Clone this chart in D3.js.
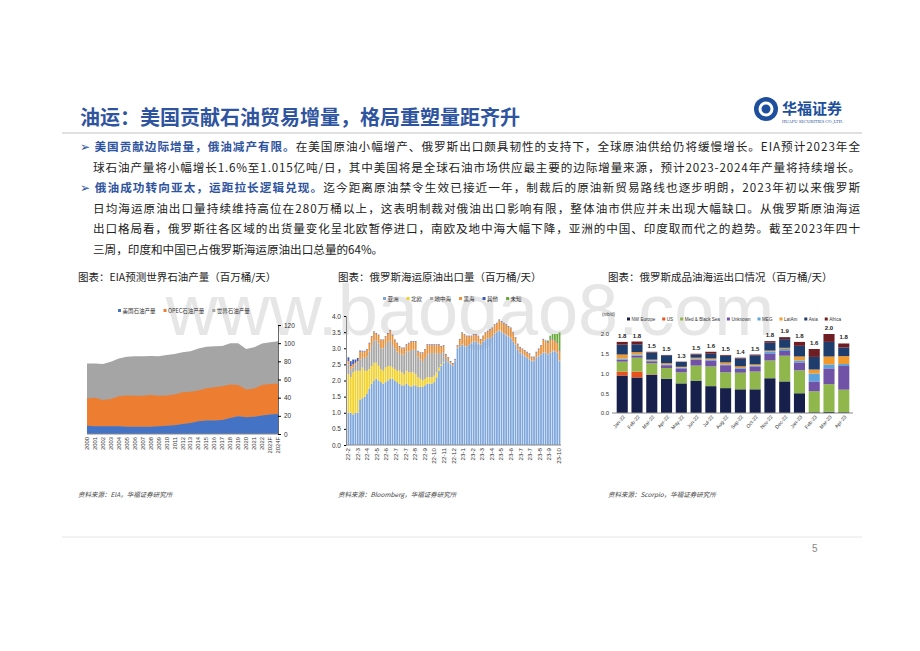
<!DOCTYPE html>
<html><head><meta charset="utf-8">
<script src="https://cdn.jsdelivr.net/npm/d3@7"></script>
<style>body{margin:0;background:#fff;font-family:"Noto Sans CJK SC",sans-serif}</style>
</head><body><svg id="s" width="920" height="651"></svg>
<script>
// ---- Chart 1 data ----
const years1 = ["2000","2001","2002","2003","2004","2005","2006","2007","2008","2009","2010","2011","2012","2013","2014","2015","2016","2017","2018","2019","2020","2021","2022","2023F","2024F"];
const usProd = [9,8.5,8.5,8.5,8.5,8,8,8,8,8.5,9,9.5,11,12,14,15,15,15.5,17.5,19.5,18.5,19,20.5,21.5,22];
const opecProd = [30,31.5,29,30,33,34.5,34,34,35,33.5,33.5,34,35,34.5,34,35.5,36.5,37,37,34.5,30.5,31,33.5,33.5,33.5];
const worldProd = [77.5,77.5,77,79.5,83,85,85.5,85.5,86,85.5,87,88,90,91,94,96,96.5,97,100,100,93.5,95.5,99.5,101,102];
const ticks1 = [0,20,40,60,80,100,120];
// ---- Chart 2 data (weekly) ----
const weekLabels = ["22-2","22-3","22-4","22-5","22-6","22-7","22-7","22-8","22-9","22-10","22-11","22-12","23-1","23-2","23-3","23-4","23-5","23-6","23-7","23-7","23-8","23-9","23-10"];
const asia = [1.0,1.0,0.95,1.0,1.0, 1.4,1.45,1.5,1.6,1.75, 1.9,2.0,2.05,2.0,1.95, 1.9,1.95,2.0,2.05,2.05, 2.0,1.95,1.9,1.85,1.85, 1.9,1.85,1.8,1.85,1.85, 1.8,1.8,1.8,1.85,1.9, 1.9,1.9,1.95,2.1,2.3, 2.45,2.55,2.6,2.55,2.5, 2.45,2.6,3.0,3.05,3.1, 3.05,3.05,3.1,3.15,3.2, 3.2,3.15,3.1,3.2,3.25, 3.3,3.3,3.35,3.45,3.5, 3.55,3.5,3.45,3.4,3.35, 3.3,3.2,3.1,2.95,2.85, 2.8,2.75,2.7,2.65,2.6, 2.6,2.7,2.75,2.8,2.85, 2.85,2.8,2.85,2.9,2.9, 2.85,2.6];
const nEurope = [1.2,1.1,1.3,1.3,1.3, 0.9,0.95,0.8,0.7,0.6, 0.55,0.55,0.5,0.45,0.4, 0.4,0.45,0.45,0.4,0.35, 0.35,0.35,0.4,0.4,0.35, 0.4,0.4,0.45,0.4,0.35, 0.3,0.25,0.2,0.2,0.2, 0.2,0.2,0.2,0.15,0.1, 0.05,0.02,0,0,0, 0,0,0,0,0, 0,0,0,0,0, 0,0,0,0,0, 0,0,0,0,0, 0,0,0,0,0, 0,0,0,0,0, 0,0,0,0,0, 0,0,0,0,0, 0,0,0,0,0, 0,0];
const med = [0.3,0.25,0.15,0.2,0.25, 0.35,0.3,0.4,0.45,0.55, 0.65,0.7,0.7,0.7,0.65, 0.7,0.7,0.75,0.8,0.7, 0.65,0.6,0.55,0.55,0.6, 0.6,0.65,0.7,0.7,0.75, 0.65,0.6,0.6,0.65,0.7, 0.75,0.75,0.7,0.6,0.45, 0.35,0.3,0.1,0.05,0.03, 0.02,0.02,0.02,0.02,0.02, 0.02,0.02,0.02,0.02,0.02, 0.02,0.02,0.02,0.02,0.02, 0.02,0.02,0.02,0.02,0.02, 0.02,0.02,0.02,0.02,0.02, 0.02,0.02,0.02,0.02,0.02, 0.02,0.02,0.02,0.02,0.02, 0.02,0.02,0.02,0.02,0.02, 0.02,0.02,0.02,0.02,0.02, 0.02,0.02];
const blackSea = [0.1,0.1,0.1,0.05,0.05, 0.25,0.2,0.2,0.2,0.25, 0.25,0.25,0.2,0.25,0.25, 0.25,0.25,0.25,0.3,0.3, 0.25,0.25,0.2,0.2,0.2, 0.2,0.25,0.25,0.25,0.25, 0.15,0.2,0.25,0.25,0.3, 0.25,0.25,0.25,0.25,0.25, 0.2,0.2,0.1,0.1,0.05, 0.05,0.03,0.05,0.2,0.35, 0.35,0.3,0.25,0.2,0.2, 0.2,0.2,0.15,0.15,0.2, 0.2,0.25,0.25,0.25,0.25, 0.3,0.3,0.3,0.3,0.3, 0.3,0.25,0.2,0.15,0.15, 0.15,0.15,0.15,0.15,0.1, 0.1,0.15,0.2,0.25,0.4, 0.35,0.35,0.4,0.35,0.3, 0.3,0.3];
const other = [0.12,0.15,0.15,0.1,0.1, 0.03,0.02,0.02,0.02,0.02, 0.02,0.02,0.02,0.02,0.02, 0.02,0.02,0.02,0.02,0.02, 0.02,0.02,0.02,0.02,0.02, 0.02,0.02,0.02,0.02,0.02, 0.02,0.02,0.02,0.02,0.02, 0.02,0.02,0.02,0.02,0.02, 0.02,0.02,0.02,0.02,0.02, 0.02,0.02,0.02,0.02,0.02, 0.02,0.02,0.02,0.02,0.02, 0.02,0.02,0.02,0.02,0.02, 0.02,0.02,0.02,0.02,0.02, 0.02,0.02,0.02,0.02,0.02, 0.02,0.02,0.02,0.02,0.02, 0.02,0.02,0.02,0.02,0.02, 0.02,0.02,0.02,0.02,0.02, 0.02,0.02,0.02,0.02,0.02, 0.02,0.02];
const unknown = [0,0,0,0,0, 0,0,0,0,0, 0,0,0,0,0, 0,0,0,0,0, 0,0,0,0,0, 0,0,0,0,0, 0,0,0,0,0, 0,0,0,0,0, 0,0,0,0,0, 0,0,0,0,0, 0,0,0,0,0, 0,0,0,0,0, 0,0,0,0,0, 0,0,0,0,0, 0,0,0,0,0, 0,0,0,0,0, 0,0,0,0,0, 0,0.05,0.1,0.15,0.2, 0.25,0.55];
const ticks2 = [0,0.5,1.0,1.5,2.0,2.5,3.0,3.5,4.0];
// ---- Chart 3 data ----
const months3 = ["Jan-22","Feb-22","Mar-22","Apr-22","May-22","Jun-22","Jul-22","Aug-22","Sep-22","Oct-22","Nov-22","Dec-22","Jan-23","Feb-23","Mar-23","Apr-23"];
const nwEurope = [0.95,0.9,0.97,0.87,0.75,0.82,0.68,0.63,0.6,0.6,0.88,0.8,0.5,0.02,0.03,0.02];
const usDest = [0.1,0.15,0.01,0,0,0,0,0,0,0,0,0,0,0,0,0];
const medBlack = [0.25,0.35,0.28,0.27,0.28,0.38,0.5,0.4,0.42,0.45,0.45,0.65,0.58,0.53,0.7,0.57];
const unknownDest = [0.05,0.05,0.05,0.07,0.1,0.15,0.15,0.18,0.1,0.13,0.18,0.12,0.2,0.25,0.4,0.6];
const meg = [0.03,0.03,0.02,0.02,0.02,0.02,0.02,0.02,0.02,0.02,0.05,0.05,0.05,0.2,0.1,0.05];
const latam = [0.1,0.06,0.02,0.03,0.02,0.03,0.03,0.05,0.04,0.03,0.02,0.03,0.1,0.1,0.2,0.2];
const asiaDest = [0.25,0.2,0.18,0.2,0.12,0.08,0.12,0.17,0.2,0.23,0.2,0.22,0.27,0.32,0.37,0.22];
const africa = [0.07,0.07,0.02,0.01,0.01,0.02,0.05,0.02,0.02,0.02,0.04,0.05,0.1,0.2,0.2,0.1];
const totalLabels3 = ["1.8","1.8","1.5","1.5","1.3","1.5","1.6","1.5","1.4","1.5","1.8","1.9","1.8","1.6","2.0","1.8"];
const ticks3 = [0,0.5,1.0,1.5,2.0];

const svg = d3.select("#s");
const F = "Noto Sans CJK SC";
const blue = "#2e54a0";

// watermark
svg.append("text").attr("x",470).attr("y",335).attr("text-anchor","middle").attr("font-family","Liberation Sans").attr("font-size",72).attr("fill","#e6e6e6").text("www.baogao8.com");

// header
svg.append("text").attr("x",80).attr("y",125).attr("font-family",F).attr("font-weight","bold").attr("font-size",20).attr("fill",blue).text("油运：美国贡献石油贸易增量，格局重塑量距齐升");
svg.append("line").attr("x1",62).attr("x2",862).attr("y1",133).attr("y2",133).attr("stroke","#e0e0e0").attr("stroke-width",2);
const lg = svg.append("g");
lg.append("circle").attr("cx",766).attr("cy",109).attr("r",12).attr("fill","#1d4f9c");
lg.append("circle").attr("cx",766).attr("cy",109).attr("r",6).attr("fill","none").attr("stroke","#fff").attr("stroke-width",3);
lg.append("text").attr("x",782).attr("y",114).attr("font-family",F).attr("font-weight","bold").attr("font-size",15).attr("fill","#1d4f9c").text("华福证券");
lg.append("text").attr("x",782).attr("y",123).attr("font-family","Liberation Serif").attr("font-size",4.5).attr("fill","#1d4f9c").text("HUAFU SECURITIES CO.,LTD.");

const lines = [
 [{t:"➢ ",c:blue,b:0},{t:"美国贡献边际增量，俄油减产有限。",c:blue,b:1},{t:"在美国原油小幅增产、俄罗斯出口颇具韧性的支持下，全球原油供给仍将缓慢增长。EIA预计2023年全",c:"#222",b:0}],
 [{t:"球石油产量将小幅增长1.6%至1.015亿吨/日，其中美国将是全球石油市场供应最主要的边际增量来源，预计2023-2024年产量将持续增长。",c:"#222",b:0}],
 [{t:"➢ ",c:blue,b:0},{t:"俄油成功转向亚太，运距拉长逻辑兑现。",c:blue,b:1},{t:"迄今距离原油禁令生效已接近一年，制裁后的原油新贸易路线也逐步明朗，2023年初以来俄罗斯",c:"#222",b:0}],
 [{t:"日均海运原油出口量持续维持高位在280万桶以上，这表明制裁对俄油出口影响有限，整体油市供应并未出现大幅缺口。从俄罗斯原油海运",c:"#222",b:0}],
 [{t:"出口格局看，俄罗斯往各区域的出货量变化呈北欧暂停进口，南欧及地中海大幅下降，亚洲的中国、印度取而代之的趋势。截至2023年四十",c:"#222",b:0}],
 [{t:"三周，印度和中国已占俄罗斯海运原油出口总量的64%。",c:"#222",b:0}]
];
lines.forEach((ln,i)=>{
  const t = svg.append("text").attr("x",i==0||i==2?80:93).attr("y",151+i*20.5).attr("font-family",F).attr("font-size",11.6);
  if(i==0||i==2) t.attr("textLength",780); else if(i!=5) t.attr("textLength",767);
  ln.forEach(s=>t.append("tspan").attr("fill",s.c).attr("font-weight",s.b?"bold":"normal").text(s.t));
});

const caps=[[78,"图表：EIA预测世界石油产量（百万桶/天）"],[338,"图表：俄罗斯海运原油出口量（百万桶/天）"],[608,"图表：俄罗斯成品油海运出口情况（百万桶/天）"]];
caps.forEach(c=>svg.append("text").attr("x",c[0]).attr("y",281).attr("font-family",F).attr("font-size",10.5).attr("fill","#222").text(c[1]));
const srcs=[[78,"资料来源：EIA，华福证券研究所"],[338,"资料来源：Bloomberg，华福证券研究所"],[608,"资料来源：Scorpio，华福证券研究所"]];
srcs.forEach(c=>svg.append("text").attr("x",c[0]).attr("y",497).attr("font-family",F).attr("font-size",6.5).attr("font-style","italic").attr("fill","#444").text(c[1]));
svg.append("line").attr("x1",62).attr("x2",862).attr("y1",537).attr("y2",537).attr("stroke","#e6e6e6");
svg.append("text").attr("x",812).attr("y",552).attr("font-family","Liberation Sans").attr("font-size",10).attr("fill","#888").text("5");

function legend(g, items, x0, yy, fs, font, gap){
  let lx=x0;
  items.forEach(l=>{
    g.append("rect").attr("x",lx).attr("y",yy-3.5).attr("width",3).attr("height",3).attr("fill",l[1]);
    const t=g.append("text").attr("x",lx+4.5).attr("y",yy).attr("font-family",font).attr("font-size",fs).attr("fill","#333").text(l[0]);
    lx += 4.5 + t.node().getComputedTextLength() + gap;
  });
}

// ---- Chart 1 ----
{
 const x = d3.scalePoint().domain(years1).range([87,278]);
 const y = d3.scaleLinear().domain([0,120]).range([434,325]);
 const g = svg.append("g");
 const area = (lo,hi)=>d3.area().x((d,i)=>x(years1[i])).y0((d,i)=>y(lo(i))).y1((d,i)=>y(hi(i)));
 g.append("path").datum(years1).attr("d",area(i=>0,i=>worldProd[i])).attr("fill","#a5a5a5");
 g.append("path").datum(years1).attr("d",area(i=>usProd[i],i=>usProd[i]+opecProd[i])).attr("fill","#ed7d31");
 g.append("path").datum(years1).attr("d",area(i=>0,i=>usProd[i])).attr("fill","#4472c4");
 const ax = g.append("g").attr("transform","translate(278,0)").call(d3.axisRight(y).tickValues(ticks1).tickSize(3));
 ax.selectAll("text").attr("font-family","Liberation Sans").attr("font-size",6.5).attr("fill","#333");
 ax.select(".domain").attr("stroke","#666");
 g.append("line").attr("x1",87).attr("x2",278).attr("y1",434).attr("y2",434).attr("stroke","#888");
 years1.forEach(yv=>g.append("text").attr("transform",`translate(${x(yv)+2},437) rotate(-90)`).attr("text-anchor","end").attr("font-family","Liberation Sans").attr("font-size",5.8).attr("fill","#333").text(yv));
 legend(g,[["美国石油产量","#4472c4"],["OPEC石油产量","#ed7d31"],["世界石油产量","#a5a5a5"]],118,312.5,5.5,F,8);
}

// ---- Chart 2 ----
{
 const n = asia.length;
 const idx = d3.range(n);
 const x = d3.scaleBand().domain(idx).range([347,561]).padding(0.25);
 const y = d3.scaleLinear().domain([0,4]).range([445,316]);
 const keys=["asia","nEurope","med","blackSea","other","unknown"];
 const src={asia,nEurope,med,blackSea,other,unknown};
 const cols={asia:"#7ea6db",nEurope:"#f2d027",med:"#a6a6a6",blackSea:"#e8923c",other:"#3d58b5",unknown:"#6aaa3a"};
 const rows=idx.map(i=>{const o={};keys.forEach(k=>o[k]=src[k][i]);return o;});
 const st=d3.stack().keys(keys)(rows);
 const g=svg.append("g");
 st.forEach(s=>g.append("g").attr("fill",cols[s.key]).selectAll("rect").data(s).join("rect")
  .attr("x",(d,i)=>x(i)).attr("width",x.bandwidth()).attr("y",d=>y(d[1])).attr("height",d=>Math.max(0,y(d[0])-y(d[1]))));
 const ay=g.append("g").attr("transform","translate(346,0)").call(d3.axisLeft(y).tickValues(ticks2).tickFormat(d3.format(".1f")).tickSize(2));
 ay.select(".domain").attr("stroke","#888");
 ay.selectAll("text").attr("font-family","Liberation Sans").attr("font-size",6.5).attr("fill","#333");
 g.append("line").attr("x1",346).attr("x2",561).attr("y1",445).attr("y2",445).attr("stroke","#888");
 const lx = d3.scalePoint().domain(d3.range(weekLabels.length)).range([348,559]);
 weekLabels.forEach((l,i)=>g.append("text").attr("transform",`translate(${lx(i)+2},448) rotate(-90)`).attr("text-anchor","end").attr("font-family","Liberation Sans").attr("font-size",6.2).attr("fill","#333").text(l));
 legend(g,[["亚洲",cols.asia],["北欧",cols.nEurope],["地中海",cols.med],["黑海",cols.blackSea],["其他",cols.other],["未知",cols.unknown]],383,300.5,5.5,F,8);
}

// ---- Chart 3 ----
{
 const keys=["nwEurope","usDest","medBlack","unknownDest","meg","latam","asiaDest","africa"];
 const src={nwEurope,usDest,medBlack,unknownDest,meg,latam,asiaDest,africa};
 const cols={nwEurope:"#17204a",usDest:"#e8501c",medBlack:"#8fb74b",unknownDest:"#7052a6",meg:"#5aa3dc",latam:"#f2992c",asiaDest:"#1e3c6c",africa:"#6e1e22"};
 const names={nwEurope:"NW Europe",usDest:"US",medBlack:"Med & Black Sea",unknownDest:"Unknown",meg:"MEG",latam:"LatAm",asiaDest:"Asia",africa:"Africa"};
 const rows=months3.map((m,i)=>{const o={m};keys.forEach(k=>o[k]=src[k][i]);return o;});
 const st=d3.stack().keys(keys)(rows);
 const x=d3.scaleBand().domain(months3).range([613,853]).padding(0.25);
 const y=d3.scaleLinear().domain([0,2]).range([413,334]);
 const g=svg.append("g");
 st.forEach(s=>g.append("g").attr("fill",cols[s.key]).selectAll("rect").data(s).join("rect")
  .attr("x",d=>x(d.data.m)).attr("width",x.bandwidth()).attr("y",d=>y(d[1])).attr("height",d=>Math.max(0,y(d[0])-y(d[1]))));
 const top=st[st.length-1];
 g.selectAll(".tl").data(top).join("text").attr("x",d=>x(d.data.m)+x.bandwidth()/2).attr("y",d=>y(d[1])-4)
  .attr("text-anchor","middle").attr("font-family","Liberation Sans").attr("font-weight","bold").attr("font-size",6).attr("fill","#222").text((d,i)=>totalLabels3[i]);
 const ay=g.append("g").attr("transform","translate(612,0)").call(d3.axisLeft(y).tickValues(ticks3).tickFormat(d3.format(".1f")).tickSize(0));
 ay.select(".domain").remove();
 ay.selectAll("text").attr("font-family","Liberation Sans").attr("font-size",6).attr("fill","#333");
 g.append("line").attr("x1",612).attr("x2",853).attr("y1",413).attr("y2",413).attr("stroke","#888");
 months3.forEach(m=>g.append("text").attr("transform",`translate(${x(m)+x.bandwidth()/2+3},417) rotate(-50)`).attr("text-anchor","end").attr("font-family","Liberation Sans").attr("font-size",5).attr("fill","#333").text(m));
 g.append("text").attr("x",602).attr("y",316).attr("font-family","Liberation Sans").attr("font-size",4.5).attr("fill","#333").text("(mb/d)");
 legend(g,keys.map(k=>[names[k],cols[k]]),627,321,4.6,"Liberation Sans",7);
}
</script></body></html>
